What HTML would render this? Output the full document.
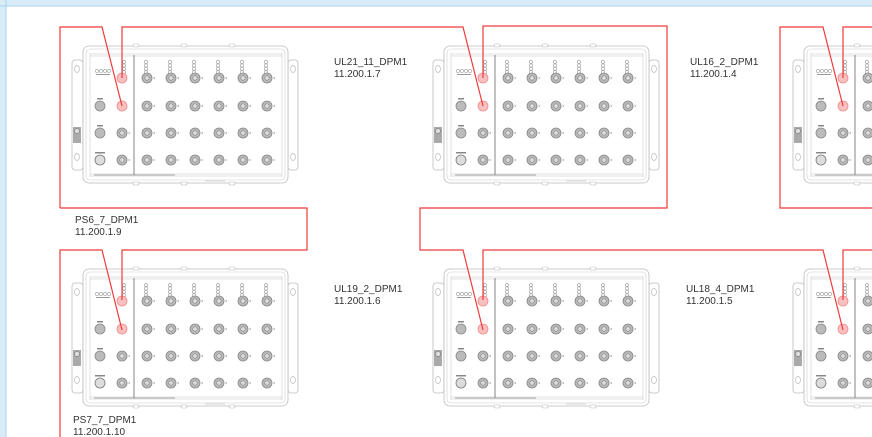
<!DOCTYPE html>
<html><head><meta charset="utf-8"><style>
html,body{margin:0;padding:0;background:#fff;width:872px;height:437px;overflow:hidden}
svg{display:block}
text{font-family:"Liberation Sans",sans-serif;font-size:10px;fill:#333}
</style></head><body>
<svg width="872" height="437" viewBox="0 0 872 437" xmlns="http://www.w3.org/2000/svg">
<defs>
<g id="led"><circle cx="0" cy="0" r="1.6" fill="#fff" stroke="#999" stroke-width="0.6"/><circle cx="0" cy="3.4" r="1.6" fill="#fff" stroke="#999" stroke-width="0.6"/><circle cx="0" cy="6.8" r="1.6" fill="#fff" stroke="#999" stroke-width="0.6"/><circle cx="0" cy="10.2" r="1.6" fill="#fff" stroke="#999" stroke-width="0.6"/></g>
<g id="p"><circle r="5" fill="#b8b8b8" stroke="#888" stroke-width="0.8"/><circle r="2.2" fill="#ddd" stroke="#777" stroke-width="0.5"/><rect x="6.5" y="-0.6" width="1.5" height="1.2" fill="#999"/></g>
<g id="dev">
 <!-- flanges -->
 <rect x="72" y="60" width="11" height="110" rx="3" fill="#fff" stroke="#bbb" stroke-width="0.8"/>
 <rect x="288" y="60" width="10" height="110" rx="3" fill="#fff" stroke="#bbb" stroke-width="0.8"/>
 <ellipse cx="77" cy="69" rx="2.5" ry="3.5" fill="none" stroke="#bbb" stroke-width="0.7"/>
 <ellipse cx="77" cy="157" rx="2.5" ry="3.5" fill="none" stroke="#bbb" stroke-width="0.7"/>
 <ellipse cx="293" cy="69" rx="2.5" ry="3.5" fill="none" stroke="#bbb" stroke-width="0.7"/>
 <ellipse cx="293" cy="157" rx="2.5" ry="3.5" fill="none" stroke="#bbb" stroke-width="0.7"/>
 <rect x="73" y="127" width="8" height="16" fill="#aaa"/>
 <circle cx="77" cy="131" r="2.5" fill="#ddd" stroke="#666" stroke-width="0.5"/>
 <!-- body -->
 <rect x="83" y="46" width="205" height="137" rx="6" fill="#fff" stroke="#bbb" stroke-width="0.8"/>
 <rect x="86" y="49" width="199" height="131" rx="4" fill="none" stroke="#ccc" stroke-width="0.6"/>
 <rect x="90" y="53" width="192" height="4" fill="#f0f0f0"/>
 <rect x="90" y="173" width="192" height="4" fill="#f0f0f0"/>
 <line x1="90" y1="53" x2="90" y2="177" stroke="#ccc" stroke-width="0.6"/>
 <line x1="282" y1="53" x2="282" y2="177" stroke="#ccc" stroke-width="0.6"/>
 <line x1="134" y1="55" x2="134" y2="175" stroke="#777" stroke-width="0.9"/>
 <line x1="94" y1="175" x2="175" y2="175" stroke="#888" stroke-width="0.8"/>
 <!-- bumps -->
 <rect x="133" y="44" width="6" height="3" rx="1.5" fill="#fff" stroke="#bbb" stroke-width="0.6"/>
 <rect x="181" y="44" width="6" height="3" rx="1.5" fill="#fff" stroke="#bbb" stroke-width="0.6"/>
 <rect x="229" y="44" width="6" height="3" rx="1.5" fill="#fff" stroke="#bbb" stroke-width="0.6"/>
 <rect x="133" y="182" width="6" height="3" rx="1.5" fill="#fff" stroke="#bbb" stroke-width="0.6"/>
 <rect x="181" y="182" width="6" height="3" rx="1.5" fill="#fff" stroke="#bbb" stroke-width="0.6"/>
 <rect x="229" y="182" width="6" height="3" rx="1.5" fill="#fff" stroke="#bbb" stroke-width="0.6"/>
 <line x1="205" y1="181" x2="225" y2="181" stroke="#ccc" stroke-width="0.8"/>
 <!-- status leds -->
 <circle cx="97" cy="71" r="1.6" fill="#fff" stroke="#999" stroke-width="0.6"/>
 <circle cx="101" cy="71" r="1.6" fill="#fff" stroke="#999" stroke-width="0.6"/>
 <circle cx="105" cy="71" r="1.6" fill="#fff" stroke="#999" stroke-width="0.6"/>
 <circle cx="109" cy="71" r="1.6" fill="#fff" stroke="#999" stroke-width="0.6"/>
 <rect x="96" y="74" width="14" height="1" fill="#999"/>
 <use href="#led" x="124" y="62"/>
 <use href="#led" x="146" y="62"/><use href="#led" x="170" y="62"/><use href="#led" x="194" y="62"/>
 <use href="#led" x="218" y="62"/><use href="#led" x="242" y="62"/><use href="#led" x="266" y="62"/>
 <!-- left column -->
 <rect x="97" y="98" width="6" height="1.5" fill="#888"/>
 <rect x="97" y="125" width="6" height="1.5" fill="#888"/>
 <rect x="95" y="152" width="10" height="1.5" fill="#888"/>
 <circle cx="100" cy="106" r="5" fill="#bbb" stroke="#888" stroke-width="0.8"/>
 <circle cx="100" cy="133" r="5" fill="#bbb" stroke="#888" stroke-width="0.8"/>
 <circle cx="100" cy="160" r="5" fill="#ddd" stroke="#777" stroke-width="0.8"/>
 <!-- column 1/2 -->
 <circle cx="122" cy="78" r="5" fill="#f8c0c0" stroke="#f08a8a" stroke-width="0.8"/>
 <circle cx="122" cy="106" r="5" fill="#f8c0c0" stroke="#f08a8a" stroke-width="0.8"/>
 <use href="#p" x="122" y="133"/><use href="#p" x="122" y="160"/>
 <!-- grid -->
 <g>
 <use href="#p" x="147" y="78"/><use href="#p" x="171" y="78"/><use href="#p" x="195" y="78"/><use href="#p" x="219" y="78"/><use href="#p" x="243" y="78"/><use href="#p" x="267" y="78"/>
 <use href="#p" x="147" y="106"/><use href="#p" x="171" y="106"/><use href="#p" x="195" y="106"/><use href="#p" x="219" y="106"/><use href="#p" x="243" y="106"/><use href="#p" x="267" y="106"/>
 <use href="#p" x="147" y="133"/><use href="#p" x="171" y="133"/><use href="#p" x="195" y="133"/><use href="#p" x="219" y="133"/><use href="#p" x="243" y="133"/><use href="#p" x="267" y="133"/>
 <use href="#p" x="147" y="160"/><use href="#p" x="171" y="160"/><use href="#p" x="195" y="160"/><use href="#p" x="219" y="160"/><use href="#p" x="243" y="160"/><use href="#p" x="267" y="160"/>
 </g>
</g>
</defs>
<rect width="872" height="437" fill="#fff"/>
<!-- rulers -->
<rect x="0" y="0" width="872" height="6" fill="#d8ecf8"/>
<rect x="0" y="0" width="6" height="437" fill="#d8ecf8"/>
<line x1="0" y1="6" x2="872" y2="6" stroke="#a9d3ef" stroke-width="1"/>
<line x1="6" y1="0" x2="6" y2="437" stroke="#a9d3ef" stroke-width="1"/>

<use href="#dev" x="0" y="0"/>
<use href="#dev" x="361" y="0"/>
<use href="#dev" x="721" y="0"/>
<use href="#dev" x="0" y="223"/>
<use href="#dev" x="361" y="223"/>
<use href="#dev" x="721" y="223"/>

<g fill="none" stroke="#f03a3a" stroke-width="1.2">
 <polyline points="60,208 60,27 102,27 122,106"/>
 <polyline points="122,78 122,27 463,27 483,106"/>
 <polyline points="483,78 483,26 667,26 667,208 420,208 420,250 463,250 483,330"/>
 <polyline points="483,300 483,250 823,250 843,330"/>
 <polyline points="843,300 843,250 872,250"/>
 <polyline points="872,208 780,208 780,27 823,27 843,106"/>
 <polyline points="843,78 843,27 872,27"/>
 <polyline points="60,208 307,208 307,250 122,250 122,300"/>
 <polyline points="60,437 60,250 102,250 122,330"/>
</g>

<text x="334" y="65">UL21_11_DPM1</text><text x="334" y="77">11.200.1.7</text>
<text x="690" y="65">UL16_2_DPM1</text><text x="690" y="77">11.200.1.4</text>
<text x="75" y="223">PS6_7_DPM1</text><text x="75" y="235">11.200.1.9</text>
<text x="334" y="292">UL19_2_DPM1</text><text x="334" y="304">11.200.1.6</text>
<text x="686" y="292">UL18_4_DPM1</text><text x="686" y="304">11.200.1.5</text>
<text x="73" y="423">PS7_7_DPM1</text><text x="73" y="435">11.200.1.10</text>
</svg>
</body></html>
